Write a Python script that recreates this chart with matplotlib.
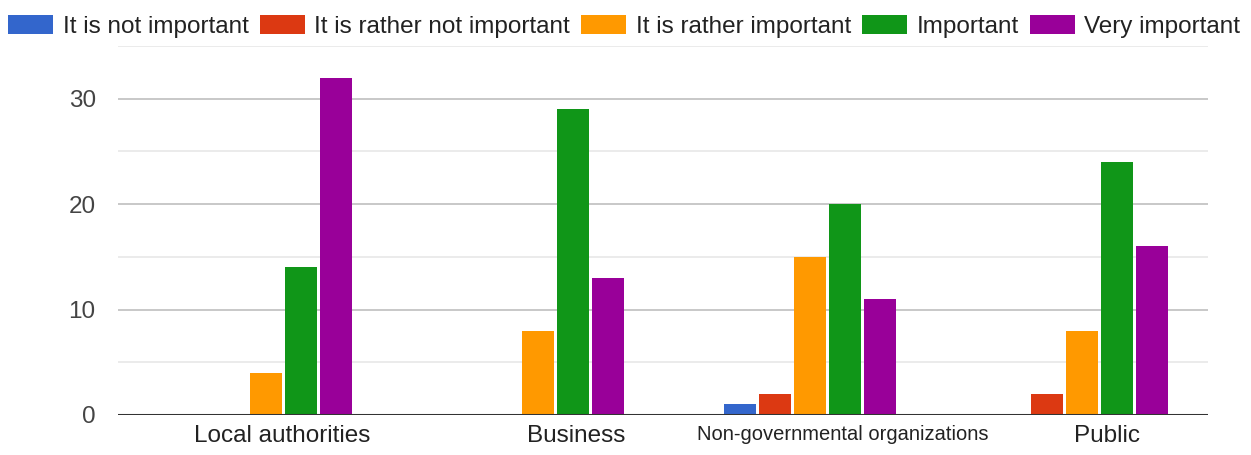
import numpy as np
import matplotlib.pyplot as plt
from matplotlib import font_manager
from matplotlib.patches import Patch

plt.rcParams['font.family'] = ['Liberation Sans', 'DejaVu Sans']

categories = ["Local authorities", "Business", "Non-governmental organizations", "Public"]
series = ["It is not important", "It is rather not important", "It is rather important",
          "Important", "Very important"]
not_important = [0, 0, 1, 0]
rather_not_important = [0, 0, 2, 2]
rather_important = [4, 8, 15, 8]
important = [14, 29, 20, 24]
very_important = [32, 13, 11, 16]

values = [not_important, rather_not_important, rather_important, important, very_important]
colors = ['#3366cc', '#dc3912', '#ff9900', '#109618', '#990099']

fig = plt.figure(figsize=(12.51, 4.55), dpi=100)
ax = fig.add_axes([0.0943, 0.088, 0.8713, 0.811])

x = np.arange(len(categories))
pitch = 0.128
width = 0.117
for i, (vals, col) in enumerate(zip(values, colors)):
    ax.bar(x + (i - 2) * pitch, vals, width, color=col, zorder=3)

ax.set_xlim(-0.544, 3.463)
ax.set_ylim(0, 35)

# light minor lines halfway between the labelled ones
ax.set_yticks([0, 10, 20, 30])
ax.set_yticks([5, 15, 25, 35], minor=True)
ax.yaxis.grid(True, which='major', color='#c8c8c8', linewidth=1.4, zorder=0)
ax.yaxis.grid(True, which='minor', color='#ebebeb', linewidth=1.4, zorder=0)
ax.axhline(0, color='#333333', linewidth=2.2, zorder=4)

# category labels sit a little right of the bar groups
label_shift = [0.06, 0.14, 0.12, 0.09]
ax.set_xticks(x + np.array(label_shift))
ax.set_xticklabels(categories, fontsize=17.5, color='#222222')

# the long label is squeezed: use a narrow face if there is one
names = {f.name for f in font_manager.fontManager.ttflist}
long_lbl = ax.get_xticklabels()[2]
if 'Liberation Sans Narrow' in names:
    long_lbl.set_family('Liberation Sans Narrow')
    long_lbl.set_fontsize(16.5)
else:
    long_lbl.set_fontsize(14.5)
ax.tick_params(axis='x', length=0, pad=7)
ax.tick_params(axis='y', which='both', length=0, pad=16, labelsize=17.5, labelcolor='#444444')

for s in ax.spines.values():
    s.set_visible(False)

handles = [Patch(facecolor=c, edgecolor='none') for c in colors]
fig.legend(handles, series, loc='upper center', bbox_to_anchor=(0.499, 1.015), ncol=5,
           frameon=False, fontsize=17.5, handlelength=1.85, handleheight=0.8,
           handletextpad=0.4, columnspacing=0.45, labelcolor='#222222')

fig.savefig('out.png', dpi=100)
